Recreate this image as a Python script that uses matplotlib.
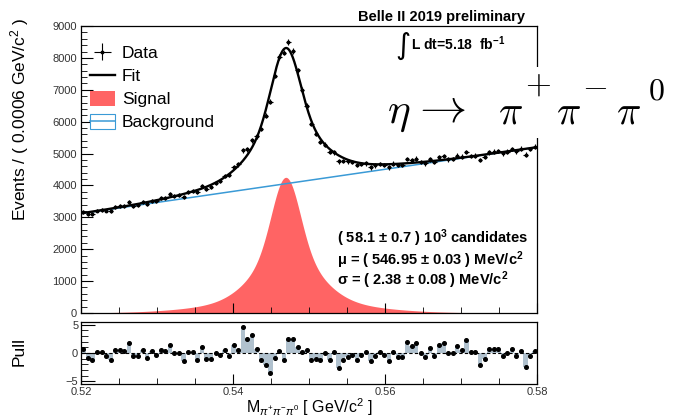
import numpy as np
import matplotlib
matplotlib.use('Agg')
import matplotlib.pyplot as plt
from matplotlib.patches import Patch, Rectangle
from matplotlib.lines import Line2D
from matplotlib.legend_handler import HandlerBase
from matplotlib.ticker import MultipleLocator, FixedLocator, FixedFormatter

# ---------------- data ----------------
x_range = [0.52, 0.58]          # GeV/c^2
bin_width = 0.0006
n_bins = 100

# pull of every bin, left to right
pulls = [0.7, -0.9, -1.3, 0.2, 0.1, -0.6, -1.2, 0.6, 0.6, 0.3,
         1.8, -0.6, -0.6, 0.5, -0.9, 0.3, -0.3, 0.6, 0.3, 1.5,
         0.0, 0.0, -1.5, 0.2, 0.2, -1.2, 1.05, -1.05, -1.05, 0.0,
         -0.3, 0.5, -0.6, 1.4, 0.6, 4.7, 2.4, 3.2, 0.7, -1.3,
         -2.2, -3.6, -0.8, 0.4, -1.2, 2.4, 2.4, 1.0, 0.2, 0.5,
         -1.25, -1.15, -1.3, 0.0, -1.25, 0.1, -2.7, -1.3, -0.75, -0.4,
         -1.3, -0.4, 0.15, -1.5, -0.5, 0.15, -0.4, -1.5, 0.2, -0.65,
         -0.65, 2.0, 1.2, 1.75, 0.0, -0.75, 0.9, -0.5, 1.4, 1.75,
         -0.05, -0.05, 1.2, 0.5, 2.35, 0.15, 0.1, -2.1, -1.05, 0.7,
         0.7, 0.7, -0.6, -0.05, 0.7, -0.55, 0.3, -2.5, -0.45, 0.35]

# background fit: linear, events per bin at the two ends of the range
bkg_ends = [3120, 5200]
# signal fit: peak position (GeV) and three Gaussian components
sig_mu = 0.54695
sig_heights = [2340, 1490, 425]          # events per bin
sig_sigmas = [0.0018, 0.0040, 0.0090]    # GeV

main_yticks = [0, 1000, 2000, 3000, 4000, 5000, 6000, 7000, 8000, 9000]
pull_yticks = [-5, 0, 5]
pull_ytick_labels = ['\u22125', '0', '5']
xticks = [0.52, 0.54, 0.56, 0.58]
xtick_labels = ['0.52', '0.54', '0.56', '0.58']

legend_labels = ['Data', 'Fit', 'Signal', 'Background']
fit_lines = ['( 58.1 \u00b1 0.7 ) 10$^{\\mathbf{3}}$ candidates',
             '\u03bc = ( 546.95 \u00b1 0.03 ) MeV/c$^{\\mathbf{2}}$',
             '\u03c3 = ( 2.38 \u00b1 0.08 ) MeV/c$^{\\mathbf{2}}$']

# ---------------- style ----------------
plt.rcParams['font.family'] = ['Liberation Sans', 'DejaVu Sans']
plt.rcParams['mathtext.fontset'] = 'custom'
plt.rcParams['mathtext.rm'] = 'Liberation Sans'
plt.rcParams['mathtext.it'] = 'Liberation Sans:italic'
plt.rcParams['mathtext.bf'] = 'Liberation Sans:bold'
plt.rcParams['mathtext.sf'] = 'Liberation Sans'

RED = '#ff6464'
BLUE = '#3a9ad6'
PULLC = '#b0c1ce'

edges = np.linspace(x_range[0], x_range[1], n_bins + 1)
centers = 0.5 * (edges[:-1] + edges[1:])


def bkg(x):
    return bkg_ends[0] + (bkg_ends[1] - bkg_ends[0]) * (x - x_range[0]) / (x_range[1] - x_range[0])


def sig(x):
    out = np.zeros_like(x)
    for h, s in zip(sig_heights, sig_sigmas):
        out = out + h * np.exp(-0.5 * ((x - sig_mu) / s) ** 2)
    return out


class HandlerBoxLine(HandlerBase):
    def create_artists(self, legend, orig_handle, xdescent, ydescent, width,
                       height, fontsize, trans):
        r = Rectangle((-xdescent, -ydescent), width, height, facecolor='white',
                      edgecolor=BLUE, lw=0.8, transform=trans)
        ln = Line2D([-xdescent, -xdescent + width], [-ydescent + height / 2] * 2,
                    color=BLUE, lw=1.1, transform=trans)
        return [r, ln]


xf = np.linspace(x_range[0], x_range[1], 1500)
fit_c = bkg(centers) + sig(centers)
p = np.array(pulls)
data = fit_c + p * np.sqrt(fit_c)
err = np.sqrt(data)

W, H = 677, 420
fig = plt.figure(figsize=(W / 100, H / 100), dpi=100)
L, R = 81, 537
ax = fig.add_axes([L / W, 1 - 313 / H, (R - L) / W, (313 - 26) / H])
axp = fig.add_axes([L / W, 1 - 384 / H, (R - L) / W, (384 - 322) / H])

# main panel
ax.fill_between(xf, 0, sig(xf), color=RED, lw=0, zorder=1)
bl, = ax.plot(xf, bkg(xf), color=BLUE, lw=1.1, zorder=2)
fl, = ax.plot(xf, bkg(xf) + sig(xf), color='black', lw=1.7, zorder=3)
eb = ax.errorbar(centers, data, yerr=err, xerr=bin_width / 2, fmt='o', ms=1.8,
                 color='black', elinewidth=0.8, capsize=0, zorder=4)
ax.set_xlim(*x_range)
ax.set_ylim(0, 9000)
ax.xaxis.set_major_locator(FixedLocator(xticks))
ax.xaxis.set_minor_locator(MultipleLocator(0.005))
ax.yaxis.set_major_locator(FixedLocator(main_yticks))
ax.yaxis.set_minor_locator(MultipleLocator(200))
ax.tick_params(axis='x', which='both', direction='in', labelbottom=False, top=False)
ax.tick_params(axis='x', which='major', length=7)
ax.tick_params(axis='x', which='minor', length=4)
ax.tick_params(axis='y', which='both', direction='in', right=False, labelsize=8,
               labelcolor='#333333', pad=3)
ax.tick_params(axis='y', which='major', length=8.5)
ax.tick_params(axis='y', which='minor', length=4.3)
for s in ax.spines.values():
    s.set_linewidth(0.9)

sig_h = Patch(facecolor=RED, edgecolor='none')
ax.legend([eb, fl, sig_h, bl], legend_labels,
          loc='upper left', bbox_to_anchor=(0.0, 0.965), frameon=False,
          fontsize=12.5, handlelength=1.45, handleheight=1.0, handletextpad=0.4,
          labelspacing=0.36, borderpad=0.0,
          handler_map={bl: HandlerBoxLine()})

for i, t in enumerate(fit_lines):
    fig.text(337 / W, 1 - [238, 260, 280][i] / H, t, fontsize=10.5, fontweight='bold',
             ha='left', va='center')

# pull panel
axp.bar(centers, p, width=bin_width, color=PULLC, lw=0, zorder=1)
axp.axhline(0, color='black', lw=0.8, ls=(0, (3, 2)), zorder=2)
axp.plot(centers, p, 'o', ms=2.6, color='black', zorder=3)
axp.set_xlim(*x_range)
axp.set_ylim(-5.5, 5.5)
axp.xaxis.set_major_locator(FixedLocator(xticks))
axp.xaxis.set_major_formatter(FixedFormatter(xtick_labels))
axp.xaxis.set_minor_locator(MultipleLocator(0.005))
axp.yaxis.set_major_locator(FixedLocator(pull_yticks))
axp.yaxis.set_major_formatter(FixedFormatter(pull_ytick_labels))
axp.yaxis.set_minor_locator(MultipleLocator(1))
axp.tick_params(axis='both', which='both', direction='in', top=False, right=False,
                labelsize=8, labelcolor='#333333', pad=2)
axp.tick_params(axis='x', which='major', length=7)
axp.tick_params(axis='x', which='minor', length=4)
axp.tick_params(axis='y', which='major', length=10)
axp.tick_params(axis='y', which='minor', length=5)
for s in axp.spines.values():
    s.set_linewidth(0.9)

# axis titles
fig.text(20 / W, 1 - 119 / H, 'Events / ( 0.0006 GeV/c$^{2}$ )', rotation=90,
         fontsize=12.5, ha='center', va='center')
fig.text(19 / W, 1 - 352 / H, 'Pull', rotation=90, fontsize=12.5, ha='center', va='center')
fig.text(309 / W, 1 - 413 / H, 'M$_{\\pi^{+}\\pi^{-}\\pi^{0}}$ [ GeV/c$^{2}$ ]',
         fontsize=11.5, ha='center', va='baseline')

# header texts
fig.text(358 / W, 1 - 17 / H, 'Belle II 2019 preliminary', fontsize=10.5,
         fontweight='bold', ha='left', va='center')
fig.text(403 / W, 1 - 46 / H, '\u222b', fontsize=21, family='DejaVu Sans',
         ha='center', va='center')
fig.text(411 / W, 1 - 44 / H, 'L dt=5.18  fb$^{\\mathbf{-1}}$', fontsize=10,
         fontweight='bold', ha='left', va='center')

# pasted decay label on white background
fig.add_artist(Rectangle((385 / W, 1 - 138 / H), (W - 385) / W, (138 - 67) / H,
                         transform=fig.transFigure, facecolor='white',
                         edgecolor='none', zorder=10))
decay_parts = [(r'$\eta$', 387, 123, 31), (r'$\rightarrow$', 411, 121, 34),
               (r'$\pi$', 498, 123, 29), (r'$+$', 525, 94, 24),
               (r'$\pi$', 556, 123, 29), (r'$-$', 582, 95, 24),
               (r'$\pi$', 616, 123, 29), (r'$0$', 648, 100, 23)]
for txt, px, py, fs in decay_parts:
    fig.text(px / W, 1 - py / H, txt, fontsize=fs, math_fontfamily='cm',
             ha='left', va='baseline', zorder=11)

fig.savefig('out.png', dpi=100)
